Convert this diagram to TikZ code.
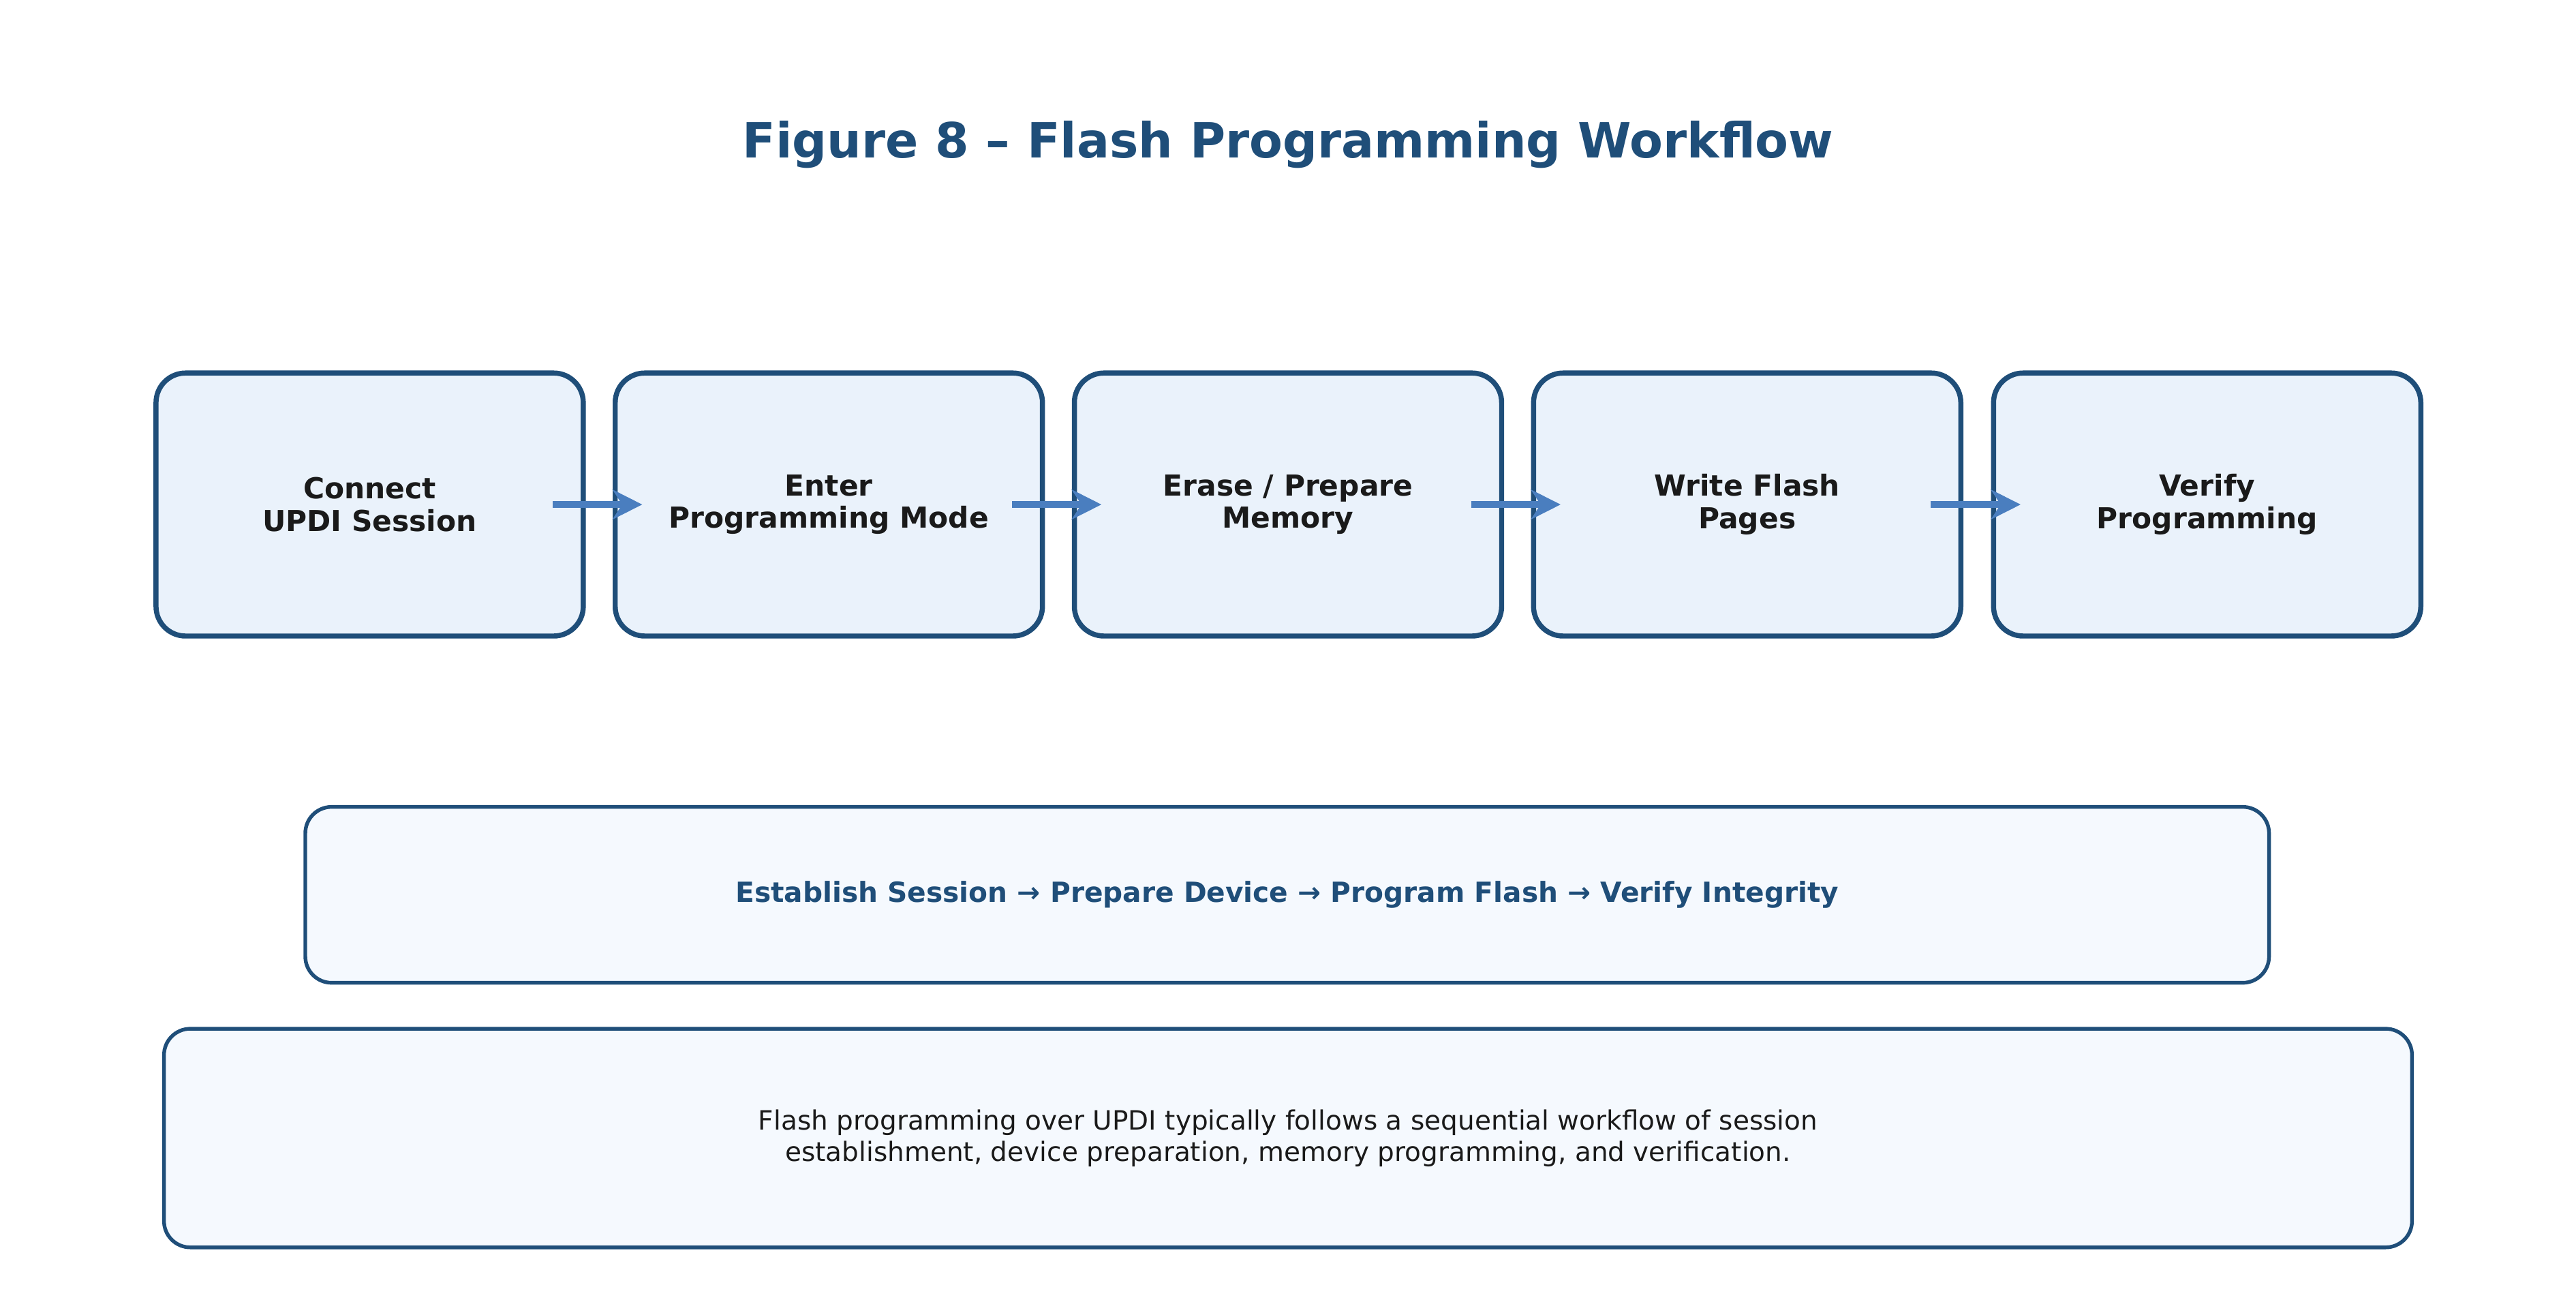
\documentclass[tikz,border=0pt]{standalone}
\usepackage{fontspec}
\setmainfont{DejaVu Sans}
\usetikzlibrary{calc,arrows.meta}
\definecolor{navy}{HTML}{1F4E79}
\definecolor{stepfill}{HTML}{EAF2FB}
\definecolor{notefill}{HTML}{F5F9FE}
\definecolor{flowblue}{HTML}{4A7EBF}
\definecolor{ink}{HTML}{1A1A1A}
\tikzset{
  stage/.style={draw=navy, line width=2.2pt, fill=stepfill, rounded corners=0.45cm,
    minimum width=6.5cm, minimum height=4cm, align=center,
    font=\fontsize{12.5}{14}\selectfont\bfseries, text=ink},
  note/.style={draw=navy, line width=1.6pt, fill=notefill, rounded corners=0.4cm, align=center},
  flow/.style={->, >={Stealth[length=0.45cm,width=0.45cm]}, draw=flowblue, line width=3pt}
}
\begin{document}
\begin{tikzpicture}[x=0.025cm,y=-0.025cm]
  \useasboundingbox (0,0) rectangle (1568,791);
  \node[font=\fontsize{21}{24}\selectfont\bfseries, text=navy] (title) at (784,88) {Figure 8 – Flash Programming Workflow};
  % workflow stages
  \node[stage] (connect) at (225,307) {Connect\\UPDI Session};
  \node[stage] (enter) at (504.5,307) {Enter\\Programming Mode};
  \node[stage] (erase) at (784,307) {Erase / Prepare\\Memory};
  \node[stage] (write) at (1063.5,307) {Write Flash\\Pages};
  \node[stage] (verify) at (1343.5,307) {Verify\\Programming};
  \foreach \a/\b in {connect/enter, enter/erase, erase/write, write/verify}
    \draw[flow] ($(\a.east)+(-0.5cm,0)$) -- ($(\b.west)+(0.45cm,0)$);
  % summary and description
  \node[note, minimum width=29.875cm, minimum height=2.675cm, text=navy,
    font=\fontsize{12}{14}\selectfont\bfseries] (summary) at (783.5,544.5)
    {Establish Session → Prepare Device → Program Flash → Verify Integrity};
  \node[note, minimum width=34.2cm, minimum height=3.325cm, text=ink,
    font=\fontsize{11.5}{13.5}\selectfont] (desc) at (784,692.5)
    {Flash programming over UPDI typically follows a sequential workflow of session\\establishment, device preparation, memory programming, and verification.};
\end{tikzpicture}
\end{document}
